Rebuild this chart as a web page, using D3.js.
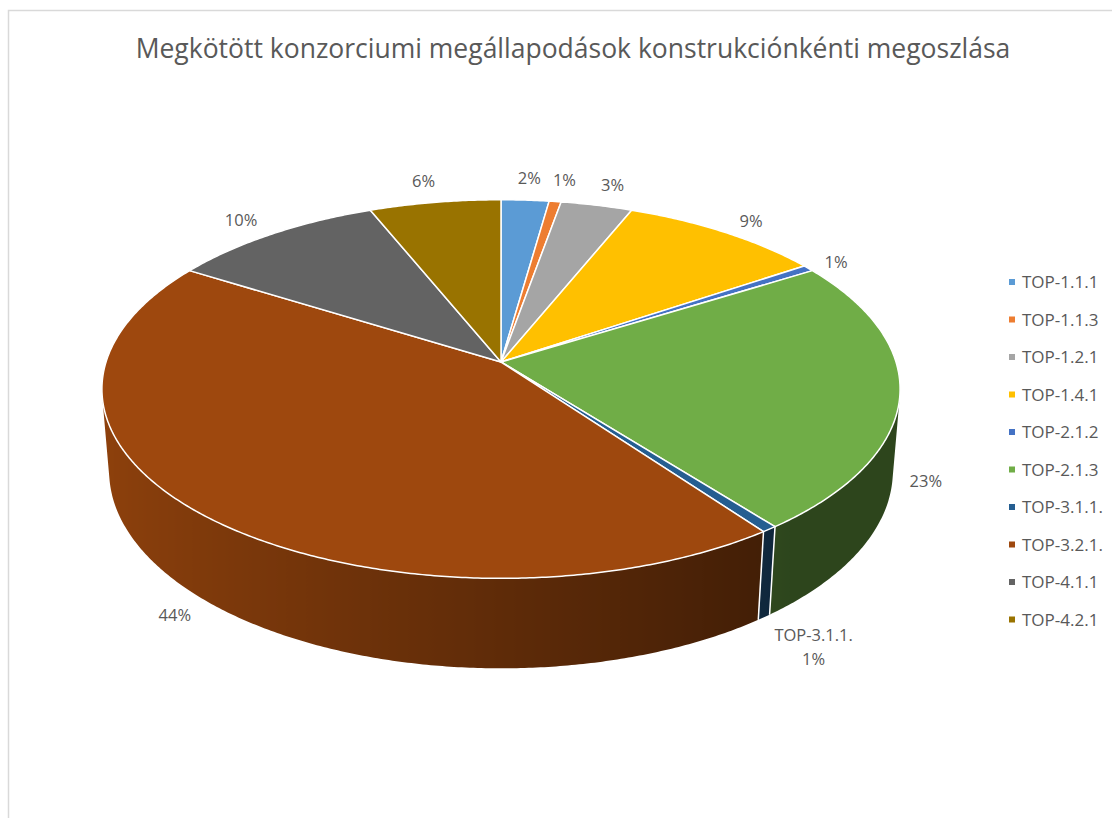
<!DOCTYPE html>
<html>
<head>
<meta charset="utf-8">
<script src="https://cdn.jsdelivr.net/npm/d3@7"></script>
<style>
html, body { margin: 0; padding: 0; background: #fff; }
svg { display: block; font-family: "Open Sans", sans-serif; }
</style>
</head>
<body>
<svg id="chart" width="1112" height="818"></svg>
<script>
// chart data
var categories = ['TOP-1.1.1', 'TOP-1.1.3', 'TOP-1.2.1', 'TOP-1.4.1', 'TOP-2.1.2',
                  'TOP-2.1.3', 'TOP-3.1.1.', 'TOP-3.2.1.', 'TOP-4.1.1', 'TOP-4.2.1'];
var counts = [4, 1, 6, 17, 1, 42, 1, 79, 18, 11];
var showName = [false, false, false, false, false, false, true, false, false, false];
var palette = ['#5B9BD5', '#ED7D31', '#A5A5A5', '#FFC000', '#4472C4',
               '#70AD47', '#255E91', '#9E480E', '#636363', '#997300'];
var title = 'Megkötött konzorciumi megállapodások konstrukciónkénti megoszlása';

var svg = d3.select('#chart');
var defs = svg.append('defs');
var textColor = '#595959';

// frame of the chart area
svg.append('path')
	.attr('d', 'M8.5,818V10.5H1112')
	.attr('fill', 'none')
	.attr('stroke', '#d9d9d9')
	.attr('stroke-width', 1.5);

svg.append('text')
	.attr('x', 573)
	.attr('y', 58)
	.attr('text-anchor', 'middle')
	.attr('font-size', 26.5)
	.attr('fill', textColor)
	.text(title);

// simple perspective camera for the tilted disc
var CX = 501, CY = 362, FOC = 2441, DIST = 6.18, THICK = 0.237;
var TILT = 28 * Math.PI / 180;
var sT = Math.sin(TILT), cT = Math.cos(TILT);

function proj(a, r, y) {
	var x = r * Math.sin(a), z = -r * Math.cos(a);
	var d = DIST - y * sT - z * cT;
	return [CX + FOC * x / d, CY + FOC * (z * sT - y * cT) / d];
}

var color = d3.scaleOrdinal().domain(categories).range(palette);
var total = d3.sum(counts);
var pct = d3.format('.0%');
var arcs = d3.pie().sort(null).value(function(d) { return d; })(counts);
var line = d3.line();
var step = 0.5 * Math.PI / 180;

// side wall is only visible where its normal faces the camera
var VIS0 = Math.acos(-1 / (DIST * cT));
var VIS1 = 2 * Math.PI - VIS0;

function shade(base, a) {
	var f = Math.max(0.4, Math.min(0.9, 0.6 - 0.3 * Math.sin(a)));
	var c = d3.rgb(base);
	return d3.rgb(c.r * f, c.g * f, c.b * f).formatHex();
}

var sides = svg.append('g');
arcs.forEach(function(d, i) {
	var lo = Math.max(d.startAngle, VIS0), hi = Math.min(d.endAngle, VIS1);
	if (lo >= hi) return;
	var n = Math.max(2, Math.ceil((hi - lo) / step));
	var angs = d3.range(n + 1).map(function(k) { return lo + k * (hi - lo) / n; });
	var topPts = angs.map(function(a) { return proj(a, 1, 0); });
	var botPts = angs.map(function(a) { return proj(a, 1, -THICK); }).reverse();

	// horizontal gradient following the wall's lighting
	var xs = angs.map(function(a) { return proj(a, 1, -THICK / 2)[0]; });
	var x0 = d3.min(xs), x1 = d3.max(xs);
	var id = 'side' + i;
	var grad = defs.append('linearGradient')
		.attr('id', id)
		.attr('gradientUnits', 'userSpaceOnUse')
		.attr('x1', x0).attr('x2', x1 > x0 ? x1 : x0 + 1)
		.attr('y1', 0).attr('y2', 0);
	var stops = angs.map(function(a, k) {
		return { off: x1 > x0 ? (xs[k] - x0) / (x1 - x0) : 0, col: shade(palette[i], a) };
	}).sort(function(p, q) { return p.off - q.off; });
	grad.selectAll('stop').data(stops).enter().append('stop')
		.attr('offset', function(s) { return s.off; })
		.attr('stop-color', function(s) { return s.col; });

	sides.append('path')
		.attr('d', line(topPts.concat(botPts)) + 'Z')
		.attr('fill', 'url(#' + id + ')');
});
// white seams between slices on the wall
arcs.forEach(function(d) {
	var a = d.startAngle;
	if (a > VIS0 && a < VIS1) {
		sides.append('path')
			.attr('d', line([proj(a, 1, 0), proj(a, 1, -THICK)]))
			.attr('stroke', '#fff')
			.attr('stroke-width', 1.5);
	}
});

var tops = svg.append('g');
arcs.forEach(function(d, i) {
	var n = Math.max(2, Math.ceil((d.endAngle - d.startAngle) / step));
	var pts = [[CX, CY]].concat(d3.range(n + 1).map(function(k) {
		return proj(d.startAngle + k * (d.endAngle - d.startAngle) / n, 1, 0);
	}));
	tops.append('path')
		.attr('d', line(pts) + 'Z')
		.attr('fill', color(categories[i]))
		.attr('stroke', '#fff')
		.attr('stroke-width', 1.5)
		.attr('stroke-linejoin', 'round');
});

// data labels, outside end
var labels = svg.append('g').attr('font-size', 16.5).attr('fill', textColor);
arcs.forEach(function(d, i) {
	var mid = (d.startAngle + d.endAngle) / 2;
	var lvl = Math.cos(mid) < 0 ? -THICK : 0;
	var p = proj(mid, 1, lvl), c0 = proj(0, 0, lvl);
	var ux = p[0] - c0[0], uy = p[1] - c0[1];
	var len = Math.sqrt(ux * ux + uy * uy);
	ux /= len; uy /= len;
	var lines = showName[i] ? [categories[i], pct(counts[i] / total)] : [pct(counts[i] / total)];
	var t = labels.append('text').attr('text-anchor', 'middle');
	lines.forEach(function(s, j) {
		t.append('tspan').attr('x', 0).attr('dy', j ? 24 : 0).text(s);
	});
	var bb = t.node().getBBox();
	var a = bb.width / 2, b = bb.height / 2;
	var dist = Math.min(Math.abs(ux) > 1e-6 ? a / Math.abs(ux) : 1e9,
	                    Math.abs(uy) > 1e-6 ? b / Math.abs(uy) : 1e9) + 11;
	var tx = p[0] + ux * (dist + 6) - (bb.x + a);
	var ty = p[1] + uy * dist - (bb.y + b);
	t.attr('transform', 'translate(' + tx + ',' + ty + ')');
});

// legend
var ly = d3.scalePoint().domain(categories).range([282, 619.5]);
var legend = svg.append('g').selectAll('g')
	.data(categories)
	.enter()
	.append('g')
	.attr('transform', function(d) { return 'translate(1009,' + ly(d) + ')'; });
legend.append('rect')
	.attr('x', 0).attr('y', -3)
	.attr('width', 6).attr('height', 6)
	.attr('fill', function(d) { return color(d); });
legend.append('text')
	.attr('x', 13)
	.attr('dy', '0.36em')
	.attr('font-size', 17)
	.attr('fill', textColor)
	.text(function(d) { return d; });
</script>
</body>
</html>
